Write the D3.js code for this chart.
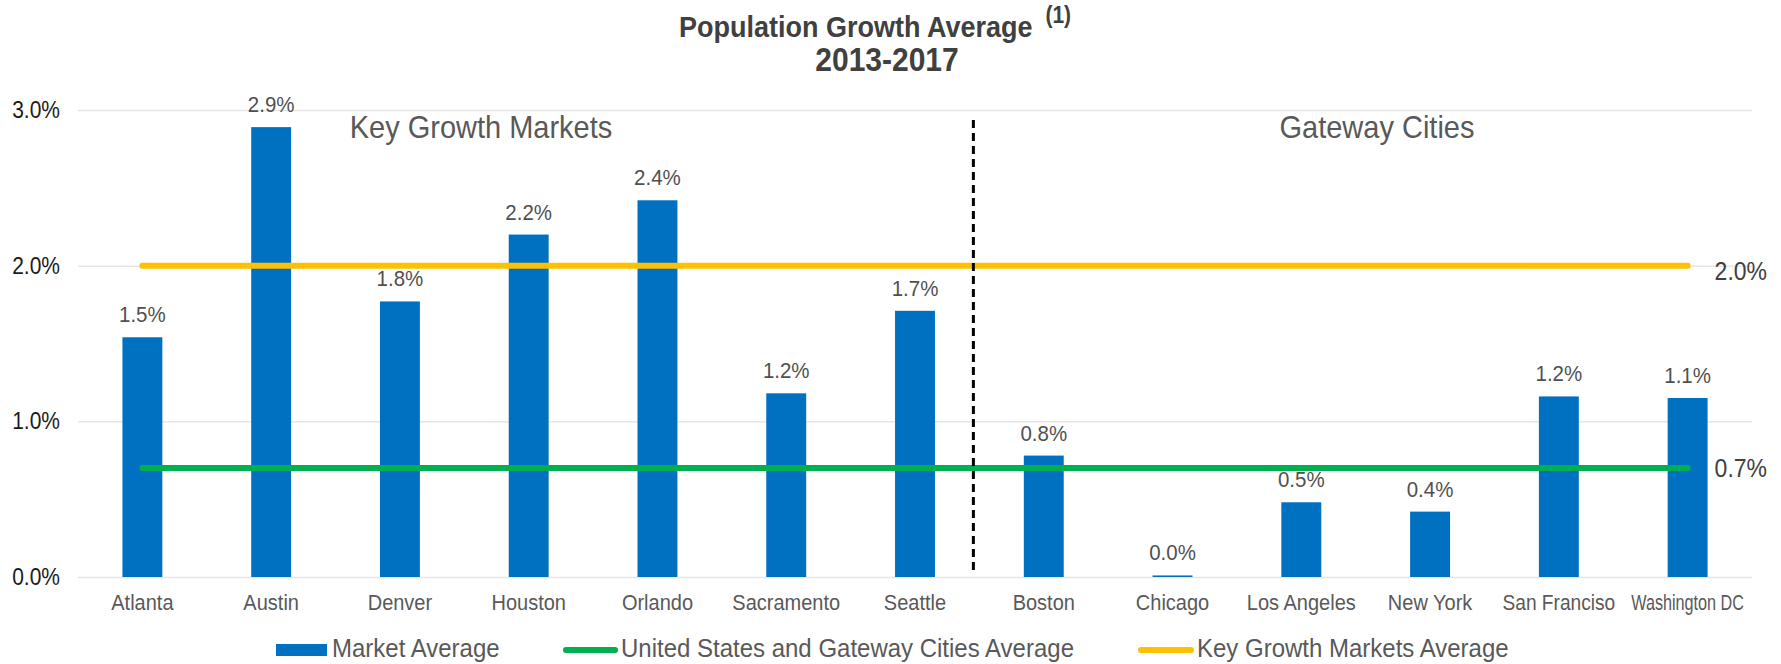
<!DOCTYPE html>
<html>
<head>
<meta charset="utf-8">
<script src="https://cdn.jsdelivr.net/npm/d3@7"></script>
<style>
  html, body { margin: 0; padding: 0; background: #ffffff; }
  svg { display: block; font-family: "Liberation Sans", Arial, sans-serif; }
</style>
</head>
<body>
<svg id="chart" width="1781" height="664"></svg>
<script>
// ---- data ----
const categories = ["Atlanta", "Austin", "Denver", "Houston", "Orlando", "Sacramento", "Seattle",
                    "Boston", "Chicago", "Los Angeles", "New York", "San Franciso", "Washington DC"];
const marketAverage = [1.54, 2.89, 1.77, 2.20, 2.42, 1.18, 1.71, 0.78, 0.01, 0.48, 0.42, 1.16, 1.15];
const usGatewayAverage = [0.7, 0.7, 0.7, 0.7, 0.7, 0.7, 0.7, 0.7, 0.7, 0.7, 0.7, 0.7, 0.7];
const keyGrowthAverage = [2.0, 2.0, 2.0, 2.0, 2.0, 2.0, 2.0, 2.0, 2.0, 2.0, 2.0, 2.0, 2.0];
const yTicks = [0, 1, 2, 3];
const groupLabels = ["Key Growth Markets", "Gateway Cities"];
const dividerBefore = "Boston";
const titleLine1 = "Population Growth Average";
const titleSup = "(1)";
const titleLine2 = "2013-2017";
const legendLabels = ["Market Average", "United States and Gateway Cities Average", "Key Growth Markets Average"];

(function () {
// ---- layout ----
const svg = d3.select("#chart");
const pLeft = 78, pRight = 1752, pTop = 110, pBottom = 577;
const BLUE = "#0070C0", GREEN = "#00B050", YELLOW = "#FFC000";
const K = 1.1; // vertical text stretch seen in the reference

const x = d3.scaleBand().domain(categories).range([pLeft, pRight]).paddingInner(0.69).paddingOuter(0.345);
const y = d3.scaleLinear().domain([0, 3]).range([pBottom, pTop]);
const cx = c => x(c) + x.bandwidth() / 2;
const fmt = d3.format(".1f");

function vstretch(sel) {
  sel.each(function () {
    const t = d3.select(this);
    const tx = +t.attr("x") || 0, ty = +t.attr("y") || 0;
    t.attr("transform", `translate(${tx},${ty}) scale(1,${K}) translate(${-tx},${-ty})`);
  });
}

// title
const title = svg.append("text").attr("x", 679).attr("y", 37).attr("text-anchor", "start")
  .attr("font-weight", "bold").attr("font-size", 27).attr("fill", "#404040");
title.append("tspan").text(titleLine1);
title.append("tspan").attr("font-size", 21).attr("dx", 13).attr("dy", -13).text(titleSup);
const title2 = svg.append("text").attr("x", 887).attr("y", 71).attr("text-anchor", "middle")
  .attr("font-weight", "bold").attr("font-size", 30).attr("fill", "#404040").text(titleLine2);
vstretch(title); vstretch(title2);

// gridlines + y axis
const yAxis = d3.axisLeft(y).tickValues(yTicks).tickSize(-(pRight - pLeft)).tickPadding(18)
  .tickFormat(d => fmt(d) + "%");
const ga = svg.append("g").attr("transform", `translate(${pLeft},0)`).call(yAxis);
ga.select(".domain").remove();
ga.selectAll(".tick line").attr("stroke", "#E6E6E6").attr("stroke-width", 1.5);
ga.selectAll(".tick text").attr("font-size", 21).attr("fill", "#1a1a1a")
  .attr("font-family", "'Liberation Sans', Arial, sans-serif").attr("dy", null).attr("y", 7.5);
vstretch(ga.selectAll(".tick text"));

// x axis labels
const xAxis = d3.axisBottom(x).tickSize(0).tickPadding(18);
const gx = svg.append("g").attr("transform", `translate(0,${pBottom})`).call(xAxis);
gx.select(".domain").remove();
gx.selectAll(".tick text").attr("font-size", 20).attr("fill", "#595959")
  .attr("font-family", "'Liberation Sans', Arial, sans-serif").attr("dy", null).attr("y", 33)
  .each(function () {
    const maxW = x.step() - 16;
    if (this.getComputedTextLength() > maxW) {
      d3.select(this).attr("textLength", maxW).attr("lengthAdjust", "spacingAndGlyphs");
    }
  });
vstretch(gx.selectAll(".tick text"));

// bars
svg.append("g").selectAll("rect").data(categories).join("rect")
  .attr("x", c => x(c)).attr("width", x.bandwidth())
  .attr("y", (c, i) => y(marketAverage[i]))
  .attr("height", (c, i) => y(0) - y(marketAverage[i]))
  .attr("fill", BLUE);

// bar value labels
const vl = svg.append("g").selectAll("text").data(categories).join("text")
  .attr("x", c => cx(c)).attr("y", (c, i) => y(marketAverage[i]) - 15)
  .attr("text-anchor", "middle").attr("font-size", 20.5).attr("fill", "#505050")
  .text((c, i) => fmt(marketAverage[i]) + "%");
vstretch(vl);

// average lines
const line = d3.line().x(d => cx(d.c)).y(d => y(d.v));
const series = [
  { vals: keyGrowthAverage, color: YELLOW, dy: 14 },
  { vals: usGatewayAverage, color: GREEN, dy: 9 }
];
series.forEach(s => {
  const pts = categories.map((c, i) => ({ c, v: s.vals[i] }));
  svg.append("path").datum(pts).attr("d", line).attr("fill", "none")
    .attr("stroke", s.color).attr("stroke-width", 6).attr("stroke-linecap", "round");
  const last = pts[pts.length - 1];
  const t = svg.append("text").attr("x", cx(last.c) + 27).attr("y", y(last.v) + s.dy)
    .attr("font-size", 23).attr("fill", "#404040").text(fmt(last.v) + "%");
  vstretch(t);
});

// divider
const divX = x(dividerBefore) + x.bandwidth() / 2 - x.step() / 2 - 6;
svg.append("line").attr("x1", divX).attr("x2", divX).attr("y1", y(3) + 10).attr("y2", y(0) - 5)
  .attr("stroke", "#000").attr("stroke-width", 3).attr("stroke-dasharray", "8,5");

// group labels
const g1 = svg.append("text").attr("x", 481).attr("y", 138).attr("text-anchor", "middle")
  .attr("font-size", 29).attr("fill", "#595959").text(groupLabels[0]);
const g2 = svg.append("text").attr("x", 1377).attr("y", 138).attr("text-anchor", "middle")
  .attr("font-size", 29).attr("fill", "#595959").text(groupLabels[1]);
vstretch(g1); vstretch(g2);

// legend
const lg = svg.append("g");
const ly = 650;
lg.append("rect").attr("x", 276).attr("y", ly - 6).attr("width", 51).attr("height", 12).attr("fill", BLUE);
lg.append("text").attr("x", 332).attr("y", ly + 7.5).attr("font-size", 24).attr("fill", "#595959").text(legendLabels[0]);
lg.append("line").attr("x1", 566).attr("x2", 615).attr("y1", ly).attr("y2", ly)
  .attr("stroke", GREEN).attr("stroke-width", 6).attr("stroke-linecap", "round");
lg.append("text").attr("x", 621).attr("y", ly + 7.5).attr("font-size", 24).attr("fill", "#595959").text(legendLabels[1]);
lg.append("line").attr("x1", 1141).attr("x2", 1191).attr("y1", ly).attr("y2", ly)
  .attr("stroke", YELLOW).attr("stroke-width", 6).attr("stroke-linecap", "round");
lg.append("text").attr("x", 1197).attr("y", ly + 7.5).attr("font-size", 24).attr("fill", "#595959").text(legendLabels[2]);
vstretch(lg.selectAll("text"));
})();
</script>
</body>
</html>
